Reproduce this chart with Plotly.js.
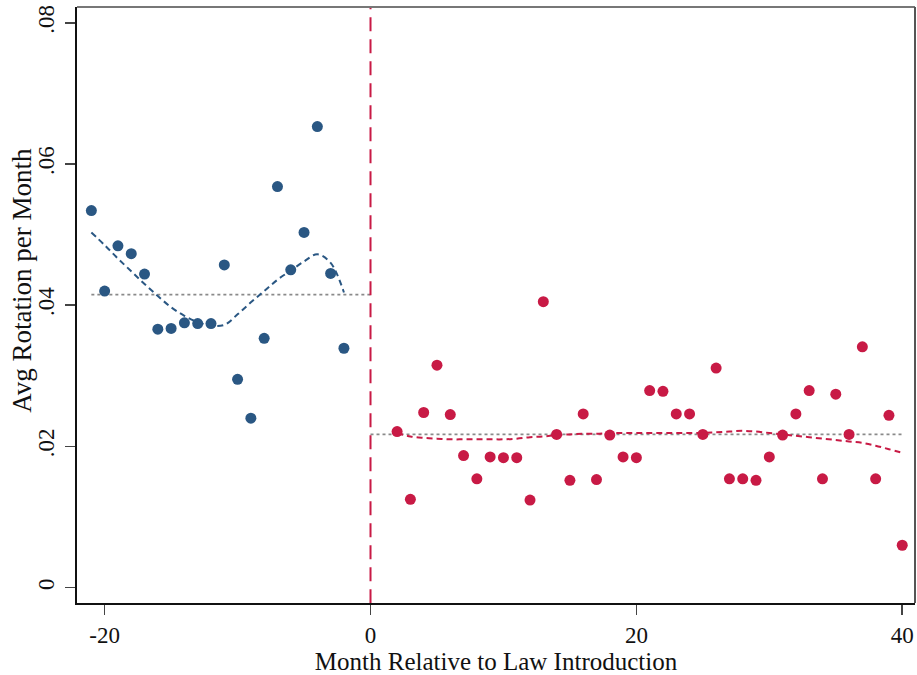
<!DOCTYPE html>
<html>
<head>
<meta charset="utf-8">
<script src="https://cdn.plot.ly/plotly-3.0.1.min.js"></script>
<style>html,body{margin:0;padding:0;background:#fff;}#chart{width:917px;height:675px;}</style>
</head>
<body>
<div id="chart"></div>
<script>
// Pre-law months and average rotation
const preMonths = [-21,-20,-19,-18,-17,-16,-15,-14,-13,-12,-11,-10,-9,-8,-7,-6,-5,-4,-3,-2];
const preRate = [0.0534,0.0420,0.0484,0.0473,0.0444,0.0366,0.0367,0.0375,0.0374,0.0374,0.0457,0.0295,0.0240,0.0353,0.0568,0.0450,0.0503,0.0653,0.0445,0.0339];
const preSmooth = [0.0503,0.0485,0.0466,0.0448,0.0430,0.0413,0.0397,0.0385,0.0376,0.0371,0.0372,0.0387,0.0404,0.0420,0.0436,0.0449,0.0462,0.0472,0.0460,0.0418];
const preMeanX = [-21, 0];
const preMean = [0.0415, 0.0415];

// Post-law months and average rotation
const postMonths = [2,3,4,5,6,7,8,9,10,11,12,13,14,15,16,17,18,19,20,21,22,23,24,25,26,27,28,29,30,31,32,33,34,35,36,37,38,39,40];
const postRate = [0.0221,0.0125,0.0248,0.0315,0.0245,0.0187,0.0154,0.0185,0.0184,0.0184,0.0124,0.0405,0.0217,0.0152,0.0246,0.0153,0.0216,0.0185,0.0184,0.0279,0.0278,0.0246,0.0246,0.0217,0.0311,0.0154,0.0154,0.0152,0.0185,0.0216,0.0246,0.0279,0.0154,0.0274,0.0217,0.0341,0.0154,0.0244,0.0060];
const postSmooth = [0.0219,0.0214,0.0212,0.0211,0.0210,0.0210,0.0210,0.0210,0.0210,0.0211,0.0213,0.0214,0.0216,0.0217,0.0218,0.0218,0.0219,0.0219,0.0219,0.0219,0.0219,0.0219,0.0219,0.0219,0.0220,0.0221,0.0222,0.0221,0.0219,0.0217,0.0215,0.0213,0.0211,0.0209,0.0207,0.0205,0.0201,0.0196,0.0191];
const postMeanX = [0, 40];
const postMean = [0.0217, 0.0217];

// Axis ticks
const xTicks = [-20, 0, 20, 40];
const xTickText = ['-20', '0', '20', '40'];
const yTicks = [0, 0.02, 0.04, 0.06, 0.08];
const yTickText = ['0', '.02', '.04', '.06', '.08'];
const eventX = [0, 0];
const eventY = [-0.0022, 0.0822];

const BLUE = '#2a5783';
const RED = '#c81a45';
const FONT = 'Liberation Serif, Times New Roman, serif';

const traces = [
  {x: preMeanX, y: preMean, mode: 'lines', line: {color: '#8a8a8a', width: 1.6, dash: 'dot'}, hoverinfo: 'skip'},
  {x: postMeanX, y: postMean, mode: 'lines', line: {color: '#8a8a8a', width: 1.6, dash: 'dot'}, hoverinfo: 'skip'},
  {x: eventX, y: eventY, mode: 'lines', line: {color: RED, width: 2, dash: '14px,8px'}, hoverinfo: 'skip'},
  {x: preMonths, y: preSmooth, mode: 'lines', line: {color: BLUE, width: 2, dash: '6px,4px', shape: 'spline'}},
  {x: postMonths, y: postSmooth, mode: 'lines', line: {color: RED, width: 2, dash: '6px,4px', shape: 'spline'}},
  {x: preMonths, y: preRate, mode: 'markers', marker: {color: BLUE, size: 11}},
  {x: postMonths, y: postRate, mode: 'markers', marker: {color: RED, size: 11}}
];

const layout = {
  width: 917, height: 675,
  margin: {l: 77, r: 2, t: 7, b: 72, pad: 0},
  paper_bgcolor: '#fff', plot_bgcolor: '#fff',
  showlegend: false,
  font: {family: FONT, color: '#111'},
  xaxis: {
    range: [-22.08, 40.96], tickvals: xTicks, ticktext: xTickText,
    showgrid: false, zeroline: false, showline: true, linecolor: '#111', linewidth: 2,
    ticks: 'outside', ticklen: 10, tickwidth: 1.5, tickcolor: '#444',
    tickfont: {family: FONT, size: 23, color: '#111'},
    ticklabelstandoff: 0,
    title: {text: 'Month Relative to Law Introduction', font: {family: FONT, size: 25, color: '#111'}, standoff: 10}
  },
  yaxis: {
    range: [-0.00218, 0.08223], tickvals: yTicks, ticktext: yTickText, tickangle: -90,
    showgrid: false, zeroline: false, showline: true, linecolor: '#111', linewidth: 2,
    ticks: 'outside', ticklen: 10, tickwidth: 1.5, tickcolor: '#444',
    tickfont: {family: FONT, size: 23, color: '#111'},
    ticklabelstandoff: 2
  },
  shapes: [
    {type: 'line', xref: 'paper', yref: 'paper', x0: 0, x1: 1, y0: 1, y1: 1, line: {color: '#777', width: 2}},
    {type: 'line', xref: 'paper', yref: 'paper', x0: 1, x1: 1, y0: 0, y1: 1, line: {color: '#555', width: 2}}
  ],
  annotations: [
    {text: 'Avg Rotation per Month', textangle: -90, xref: 'paper', yref: 'paper',
     x: -0.066, y: 0.5417, xanchor: 'center', yanchor: 'middle', showarrow: false,
     font: {family: FONT, size: 27, color: '#111'}}
  ]
};

Plotly.newPlot('chart', traces, layout, {displayModeBar: false, staticPlot: true});
</script>
</body>
</html>
